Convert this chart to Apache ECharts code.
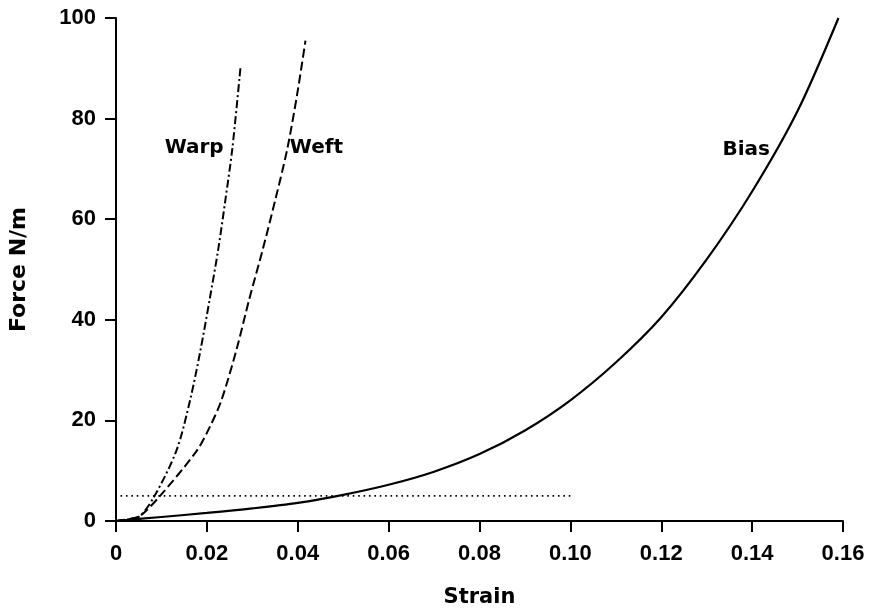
<!DOCTYPE html>
<html>
<head>
<meta charset="utf-8">
<script src="https://cdn.jsdelivr.net/npm/echarts@6/dist/echarts.min.js"></script>
<style>
  html, body { margin: 0; padding: 0; background: #fff; }
  #chart-container { width: 870px; height: 616px; }
</style>
</head>
<body>
<div id="chart-container"></div>
<script>
var dom = document.getElementById("chart-container");
var myChart = echarts.init(dom, null, { renderer: "canvas" });

// strain / force pairs
var warpStrain = [0, 0.003, 0.0053, 0.0085, 0.0133, 0.0163, 0.0186, 0.0206, 0.0225, 0.0241, 0.0256, 0.0274];
var warpForce  = [0, 0.4, 1.0, 5.0, 14, 24, 34, 44, 54, 64, 74, 90.2];

var weftStrain = [0, 0.003, 0.0053, 0.0097, 0.0178, 0.0208, 0.0232, 0.0265, 0.0293, 0.0323, 0.0351, 0.0377, 0.0399, 0.0417];
var weftForce  = [0, 0.4, 1.0, 5.0, 14, 19, 24, 34, 44, 54, 64, 74, 85, 95.5];

var biasStrain = [0, 0.01, 0.02, 0.03, 0.04, 0.05, 0.06, 0.07, 0.08, 0.09, 0.10, 0.11, 0.12, 0.13, 0.14, 0.15, 0.159];
var biasForce  = [0, 0.8, 1.6, 2.5, 3.6, 5.2, 7.2, 9.8, 13.3, 18.0, 24.0, 31.5, 40.5, 52.0, 65.5, 81.5, 100];

var limitStrain = [0.001, 0.1];
var limitForce  = [5, 5];

var curveNames = ["Warp", "Weft", "Bias"];
var nameStrain = [0.0172, 0.0441, 0.1387];
var nameForce  = [74.2, 74.2, 73.8];

var xTicks = [0, 0.02, 0.04, 0.06, 0.08, 0.10, 0.12, 0.14, 0.16];
var yTicks = [0, 20, 40, 60, 80, 100];

function pairs(xs, ys) {
  return xs.map(function (x, i) { return [x, ys[i]]; });
}

var axisBlack = { lineStyle: { color: "#000", width: 2 } };
var tickFont = { color: "#000", fontFamily: "Liberation Sans, Arial, sans-serif", fontWeight: "bold", fontSize: 22 };
var nameFont = { color: "#000", fontFamily: "DejaVu Sans", fontWeight: "bold", fontSize: 21 };

var option = {
  backgroundColor: "#fff",
  animation: false,
  grid: { left: 113, right: 27, top: 18, bottom: 95 },
  xAxis: {
    type: "value",
    min: xTicks[0],
    max: xTicks[xTicks.length - 1],
    interval: 0.02,
    name: "Strain",
    nameLocation: "middle",
    nameGap: 66,
    nameTextStyle: nameFont,
    axisLine: axisBlack,
    axisTick: { show: true, length: 11, inside: false, lineStyle: { color: "#000", width: 2 } },
    axisLabel: Object.assign({
      margin: 22,
      formatter: function (v) { return v === 0 ? "0" : v.toFixed(2); }
    }, tickFont),
    splitLine: { show: false }
  },
  yAxis: {
    type: "value",
    min: yTicks[0],
    max: yTicks[yTicks.length - 1],
    interval: 20,
    name: "Force N/m",
    nameLocation: "middle",
    nameGap: 86,
    nameTextStyle: Object.assign({}, nameFont, { fontSize: 22 }),
    axisLine: axisBlack,
    axisTick: { show: true, length: 11, inside: false, lineStyle: { color: "#000", width: 2 } },
    axisLabel: Object.assign({ margin: 20 }, tickFont),
    splitLine: { show: false }
  },
  series: [
    {
      name: "Warp",
      type: "line",
      smooth: 0.3,
      showSymbol: false,
      data: pairs(warpStrain, warpForce),
      lineStyle: { color: "#000", width: 2, type: [8, 3, 2, 3] }
    },
    {
      name: "Weft",
      type: "line",
      smooth: 0.3,
      showSymbol: false,
      data: pairs(weftStrain, weftForce),
      lineStyle: { color: "#000", width: 2, type: [9, 4] }
    },
    {
      name: "Bias",
      type: "line",
      smooth: 0.3,
      showSymbol: false,
      data: pairs(biasStrain, biasForce),
      lineStyle: { color: "#000", width: 2.2 }
    },
    {
      name: "limit",
      type: "line",
      showSymbol: false,
      data: pairs(limitStrain, limitForce),
      lineStyle: { color: "#000", width: 1.6, type: [1.6, 3.8] }
    },
    {
      name: "labels",
      type: "scatter",
      symbolSize: 0,
      silent: true,
      itemStyle: { opacity: 1, color: "#000" },
      data: curveNames.map(function (n, i) { return { name: n, value: [nameStrain[i], nameForce[i]] }; }),
      label: Object.assign({
        show: true,
        opacity: 1,
        position: [0, 0],
        align: "center",
        verticalAlign: "middle",
        formatter: "{b}"
      }, nameFont, { fontSize: 20 })
    }
  ]
};

myChart.setOption(option);
window.addEventListener("resize", myChart.resize);
</script>
</body>
</html>
